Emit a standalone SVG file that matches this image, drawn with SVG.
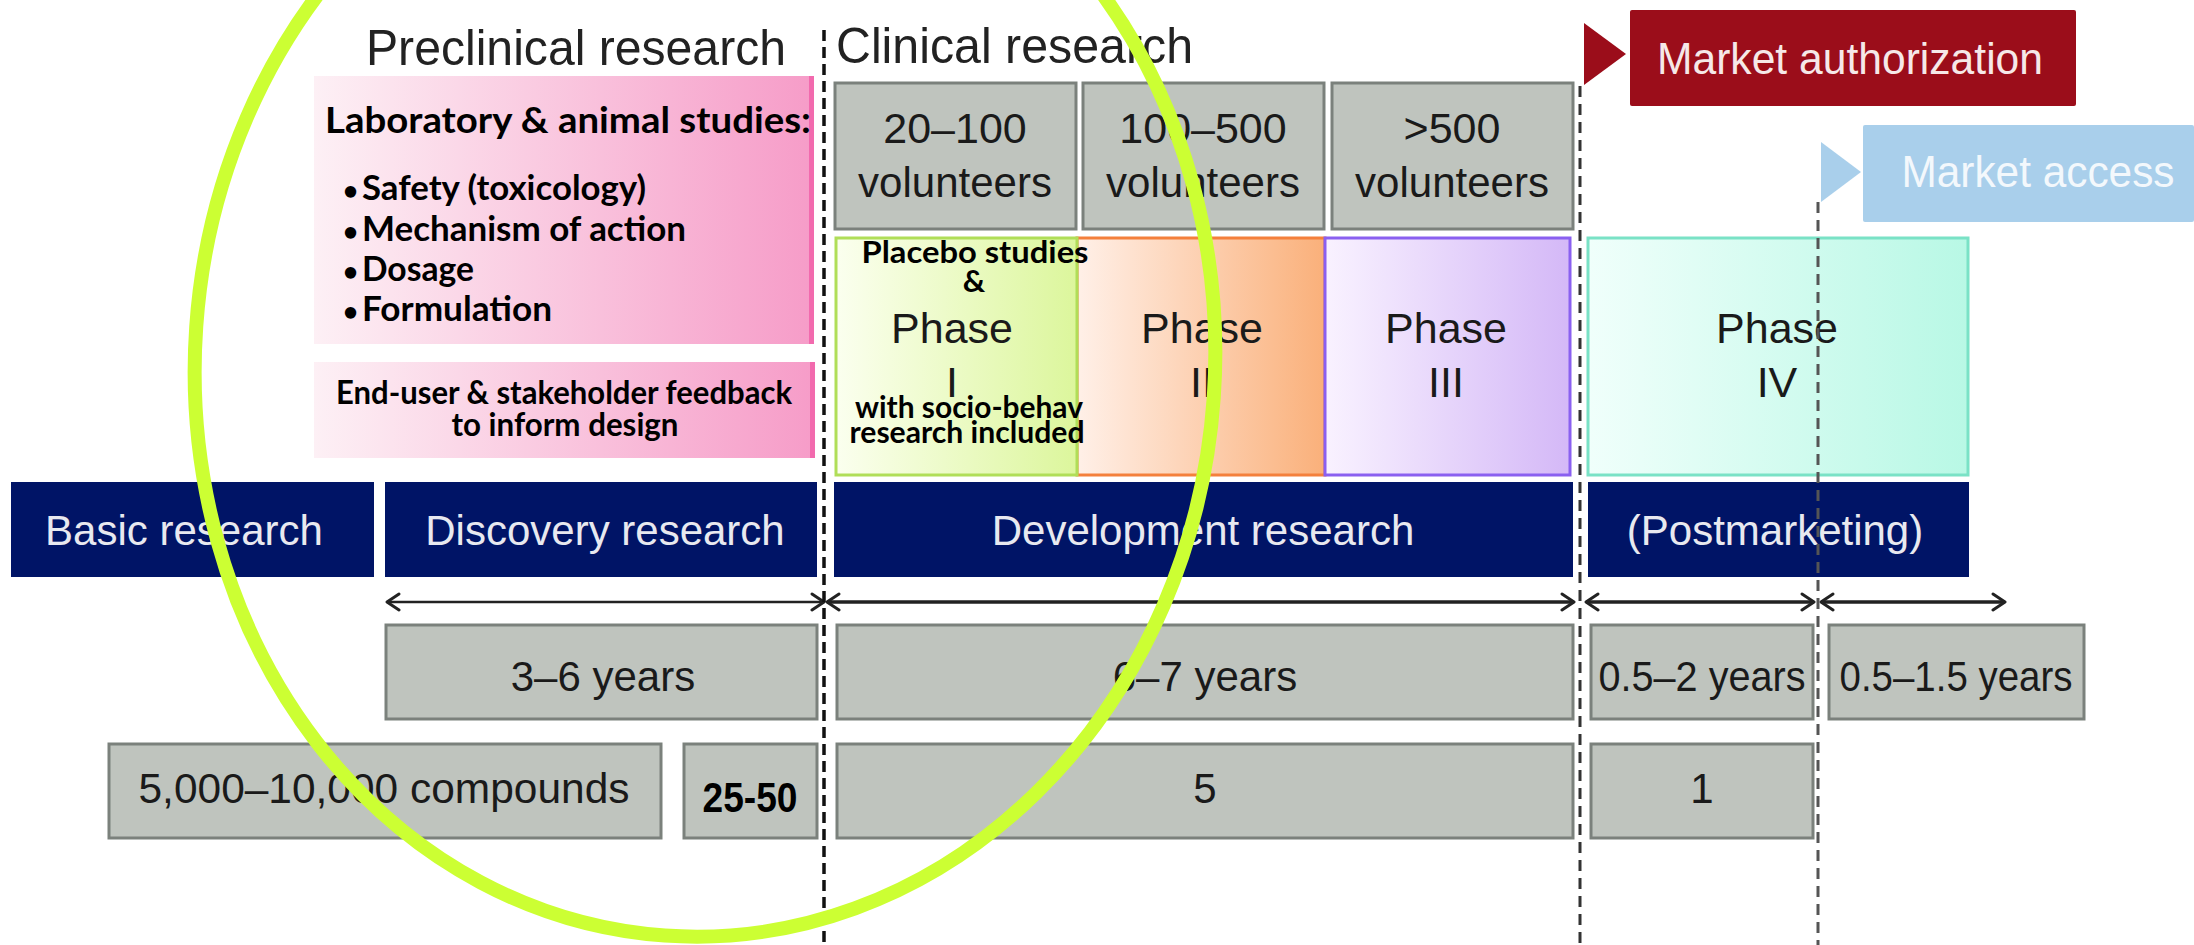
<svg xmlns="http://www.w3.org/2000/svg" width="2194" height="945" viewBox="0 0 2194 945">
<defs>
<style>
.h{font-family:"Liberation Sans",Arial,Helvetica,sans-serif;fill:#1a1a1a}
.w{font-family:"Liberation Sans",Arial,Helvetica,sans-serif;fill:#e8e9f0}
.b{font-family:Lato,"Open Sans","Noto Sans",sans-serif;font-weight:700;fill:#000}
.grey{fill:#bfc4be;stroke:#7b817c;stroke-width:3}
.navy{fill:#001466}
.arr{stroke:#222;stroke-width:3.5;fill:none}
</style>
<linearGradient id="gPink" x1="0" y1="0" x2="1" y2="0"><stop offset="0" stop-color="#fdf0f5"/><stop offset="1" stop-color="#f69cc8"/></linearGradient>
<linearGradient id="gGreen" x1="0" y1="0" x2="1" y2="0"><stop offset="0" stop-color="#fbffef"/><stop offset="1" stop-color="#dcf69c"/></linearGradient>
<linearGradient id="gOrange" x1="0" y1="0" x2="1" y2="0"><stop offset="0" stop-color="#fff0e8"/><stop offset="1" stop-color="#fab07a"/></linearGradient>
<linearGradient id="gPurple" x1="0" y1="0" x2="1" y2="0"><stop offset="0" stop-color="#f9f2ff"/><stop offset="1" stop-color="#d4b8f7"/></linearGradient>
<linearGradient id="gTeal" x1="0" y1="0" x2="1" y2="0"><stop offset="0" stop-color="#f0fffb"/><stop offset="1" stop-color="#b8f8e5"/></linearGradient>
<marker id="head" viewBox="0 0 20 20" refX="17" refY="10" markerWidth="20" markerHeight="20" markerUnits="userSpaceOnUse" orient="auto-start-reverse">
<path d="M5 2 L17 10 L5 18" fill="none" stroke="#222" stroke-width="3" stroke-linecap="round" stroke-linejoin="round"/>
</marker>
</defs>
<rect x="0" y="0" width="2194" height="945" fill="#ffffff"/>

<g id="titles">
<text class="h" x="366" y="65" font-size="50" textLength="420" lengthAdjust="spacingAndGlyphs" style="fill:#222">Preclinical research</text>
<text class="h" x="836" y="63" font-size="50" textLength="357" lengthAdjust="spacingAndGlyphs" style="fill:#222">Clinical research</text>
</g>

<g id="market-authorization">
<polygon points="1584,23 1626,54 1584,85" fill="#9b0d1a"/>
<rect x="1630" y="10" width="446" height="96" rx="2" fill="#9b0d1a"/>
<text x="1850" y="74" font-size="44" text-anchor="middle" textLength="386" lengthAdjust="spacingAndGlyphs" style="font-family:'Liberation Sans',Arial,sans-serif;fill:#f6e8e8">Market authorization</text>
</g>

<g id="market-access">
<polygon points="1821,142 1861,172 1821,202" fill="#a9cfeb"/>
<rect x="1863" y="125" width="331" height="97" rx="2" fill="#a9cfeb"/>
<text x="2038" y="187" font-size="44" text-anchor="middle" textLength="273" lengthAdjust="spacingAndGlyphs" style="font-family:'Liberation Sans',Arial,sans-serif;fill:#f3f8fc">Market access</text>
</g>

<g id="lab-studies">
<rect x="314" y="76" width="500" height="268" fill="url(#gPink)"/>
<rect x="809" y="76" width="5" height="268" fill="#f26aae"/>
<text class="b" x="325" y="133" font-size="36" textLength="486" lengthAdjust="spacingAndGlyphs">Laboratory &amp; animal studies:</text>
<text class="b" x="343" y="200" font-size="26">•</text>
<text class="b" x="362" y="200" font-size="34" textLength="284" lengthAdjust="spacingAndGlyphs">Safety (toxicology)</text>
<text class="b" x="343" y="241" font-size="26">•</text>
<text class="b" x="362" y="241" font-size="34" textLength="324" lengthAdjust="spacingAndGlyphs">Mechanism of action</text>
<text class="b" x="343" y="281" font-size="26">•</text>
<text class="b" x="362" y="281" font-size="34" textLength="112" lengthAdjust="spacingAndGlyphs">Dosage</text>
<text class="b" x="343" y="321" font-size="26">•</text>
<text class="b" x="362" y="321" font-size="34" textLength="190" lengthAdjust="spacingAndGlyphs">Formulation</text>
</g>

<g id="end-user-feedback">
<rect x="314" y="362" width="501" height="96" fill="url(#gPink)"/>
<rect x="810" y="362" width="5" height="96" fill="#f26aae"/>
<text class="b" x="564" y="404" font-size="33" text-anchor="middle" textLength="456" lengthAdjust="spacingAndGlyphs">End-user &amp; stakeholder feedback</text>
<text class="b" x="565" y="436" font-size="33" text-anchor="middle" textLength="227" lengthAdjust="spacingAndGlyphs">to inform design</text>
</g>

<g id="volunteers-1">
<rect class="grey" x="835" y="83" width="241" height="146"/>
<text class="h" x="955" y="143" font-size="43" text-anchor="middle">20–100</text>
<text class="h" x="955" y="197" font-size="43" text-anchor="middle" textLength="194" lengthAdjust="spacingAndGlyphs">volunteers</text>
</g>
<g id="volunteers-2">
<rect class="grey" x="1083" y="83" width="241" height="146"/>
<text class="h" x="1203" y="143" font-size="43" text-anchor="middle">100–500</text>
<text class="h" x="1203" y="197" font-size="43" text-anchor="middle" textLength="194" lengthAdjust="spacingAndGlyphs">volunteers</text>
</g>
<g id="volunteers-3">
<rect class="grey" x="1332" y="83" width="241" height="146"/>
<text class="h" x="1452" y="143" font-size="43" text-anchor="middle">&gt;500</text>
<text class="h" x="1452" y="197" font-size="43" text-anchor="middle" textLength="194" lengthAdjust="spacingAndGlyphs">volunteers</text>
</g>

<g id="phase-2">
<rect x="1077" y="238" width="248" height="237" fill="url(#gOrange)" stroke="#f4803c" stroke-width="3"/>
<text class="h" x="1202" y="343" font-size="43" text-anchor="middle">Phase</text>
<text class="h" x="1202" y="397" font-size="43" text-anchor="middle">II</text>
</g>
<g id="phase-3">
<rect x="1325" y="238" width="245" height="237" fill="url(#gPurple)" stroke="#8a60f0" stroke-width="3"/>
<text class="h" x="1446" y="343" font-size="43" text-anchor="middle">Phase</text>
<text class="h" x="1446" y="397" font-size="43" text-anchor="middle">III</text>
</g>
<g id="phase-1">
<rect x="836" y="238" width="241" height="237" fill="url(#gGreen)" stroke="#b0de58" stroke-width="3"/>
<text class="b" x="975" y="263" font-size="31" text-anchor="middle" textLength="227" lengthAdjust="spacingAndGlyphs">Placebo studies</text>
<text class="b" x="974" y="292" font-size="31" text-anchor="middle">&amp;</text>
<text class="h" x="952" y="343" font-size="43" text-anchor="middle">Phase</text>
<text class="h" x="952" y="397" font-size="43" text-anchor="middle">I</text>
<text class="b" x="969" y="418" font-size="31" text-anchor="middle" textLength="228" lengthAdjust="spacingAndGlyphs">with socio-behav</text>
<text class="b" x="967" y="443" font-size="31" text-anchor="middle" textLength="235" lengthAdjust="spacingAndGlyphs">research included</text>
</g>
<g id="phase-4">
<rect x="1588" y="238" width="380" height="237" fill="url(#gTeal)" stroke="#7ae2c6" stroke-width="3"/>
<text class="h" x="1777" y="343" font-size="43" text-anchor="middle">Phase</text>
<text class="h" x="1777" y="397" font-size="43" text-anchor="middle">IV</text>
</g>

<g id="basic-research">
<rect class="navy" x="11" y="482" width="363" height="95"/>
<text class="w" x="184" y="545" font-size="42" text-anchor="middle">Basic research</text>
</g>
<g id="discovery-research">
<rect class="navy" x="385" y="482" width="432" height="95"/>
<text class="w" x="605" y="545" font-size="42" text-anchor="middle">Discovery research</text>
</g>
<g id="development-research">
<rect class="navy" x="834" y="482" width="739" height="95"/>
<text class="w" x="1203" y="545" font-size="42" text-anchor="middle">Development research</text>
</g>
<g id="postmarketing">
<rect class="navy" x="1588" y="482" width="381" height="95"/>
<text class="w" x="1775" y="545" font-size="42" text-anchor="middle">(Postmarketing)</text>
</g>

<g id="years-3-6">
<rect class="grey" x="386" y="625" width="431" height="94"/>
<text class="h" x="603" y="691" font-size="42" text-anchor="middle">3–6 years</text>
</g>
<g id="years-6-7">
<rect class="grey" x="837" y="625" width="736" height="94"/>
<text class="h" x="1205" y="691" font-size="42" text-anchor="middle">6–7 years</text>
</g>
<g id="years-0.5-2">
<rect class="grey" x="1591" y="625" width="222" height="94"/>
<text class="h" x="1702" y="691" font-size="42" text-anchor="middle" textLength="207" lengthAdjust="spacingAndGlyphs">0.5–2 years</text>
</g>
<g id="years-0.5-1.5">
<rect class="grey" x="1829" y="625" width="255" height="94"/>
<text class="h" x="1956" y="691" font-size="42" text-anchor="middle" textLength="233" lengthAdjust="spacingAndGlyphs">0.5–1.5 years</text>
</g>

<g id="compounds">
<rect class="grey" x="109" y="744" width="552" height="94"/>
<text class="h" x="384" y="803" font-size="42" text-anchor="middle" textLength="491" lengthAdjust="spacingAndGlyphs">5,000–10,000 compounds</text>
</g>
<g id="count-25-50">
<rect class="grey" x="684" y="744" width="133" height="94"/>
<text x="750" y="812" font-size="43" font-weight="700" text-anchor="middle" textLength="95" lengthAdjust="spacingAndGlyphs" style="font-family:'Liberation Sans',Arial,sans-serif;fill:#000">25-50</text>
</g>
<g id="count-5">
<rect class="grey" x="837" y="744" width="736" height="94"/>
<text class="h" x="1205" y="803" font-size="42" text-anchor="middle">5</text>
</g>
<g id="count-1">
<rect class="grey" x="1591" y="744" width="222" height="94"/>
<text class="h" x="1702" y="803" font-size="42" text-anchor="middle">1</text>
</g>

<g id="connectors">
<line x1="387" y1="602" x2="824" y2="602" stroke="#222" stroke-width="2.5" marker-start="url(#head)" marker-end="url(#head)"/>
<line x1="827" y1="602" x2="1574" y2="602" class="arr" marker-start="url(#head)" marker-end="url(#head)"/>
<line x1="1586" y1="602" x2="1814" y2="602" class="arr" marker-start="url(#head)" marker-end="url(#head)"/>
<line x1="1821" y1="602" x2="2005" y2="602" class="arr" marker-start="url(#head)" marker-end="url(#head)"/>
<line x1="824" y1="30" x2="824" y2="945" stroke="#111" stroke-width="3.5" stroke-dasharray="11 6"/>
<line x1="1580" y1="86" x2="1580" y2="945" stroke="#333" stroke-width="3" stroke-dasharray="11 7"/>
<line x1="1818" y1="202" x2="1818" y2="945" stroke="#555" stroke-width="3" stroke-dasharray="11 7"/>
</g>

<g id="highlight-circle">
<ellipse cx="705" cy="362" rx="510" ry="575" transform="rotate(4 705 362)" fill="none" stroke="#ccff33" stroke-width="14"/>
</g>
</svg>
